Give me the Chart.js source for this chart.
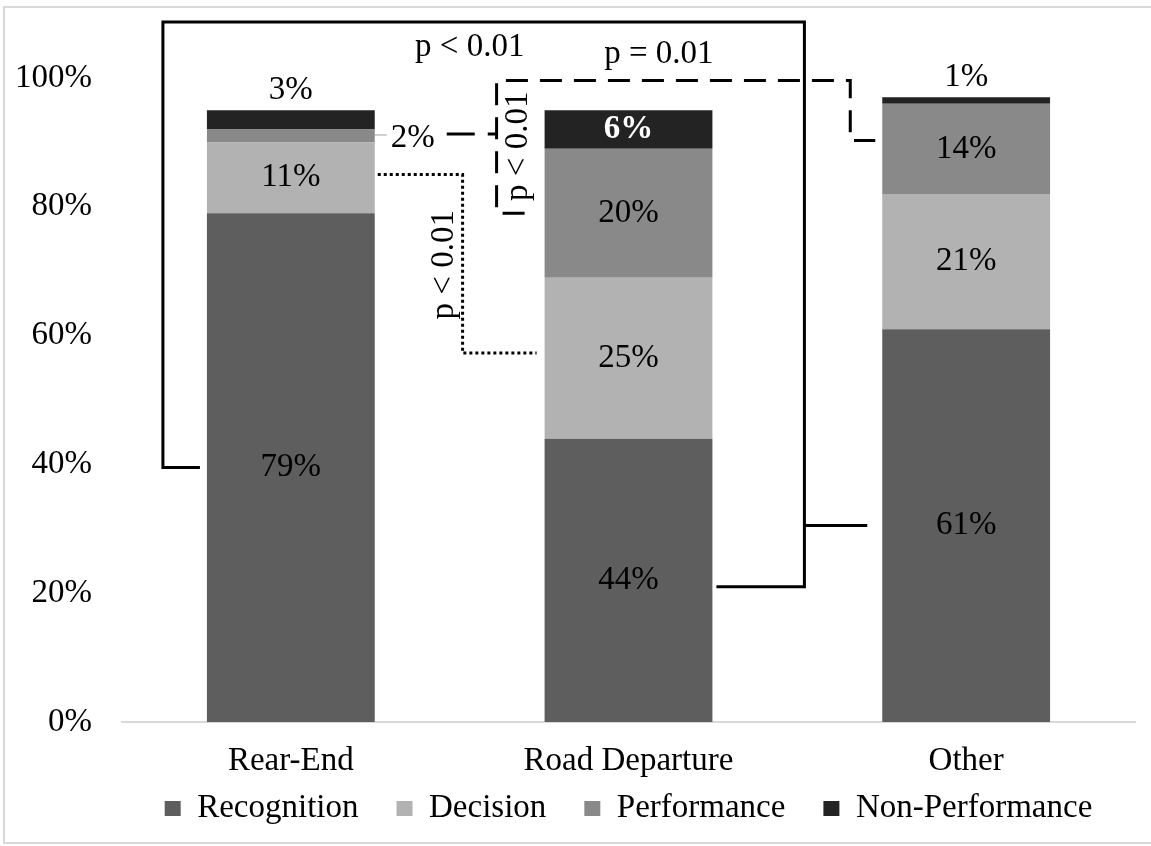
<!DOCTYPE html>
<html lang="en">
<head>
<meta charset="UTF-8">
<title>Error types by crash type</title>
<script src="https://cdn.jsdelivr.net/npm/chart.js"></script>
<style>
  html, body { margin: 0; padding: 0; background: #fff; }
  #wrap { position: relative; width: 1151px; height: 846px; }
</style>
</head>
<body>
<div id="wrap"><canvas id="errorChart" width="1151" height="846"></canvas></div>
<script>
const categories = ['Rear-End', 'Road Departure', 'Other'];
const recognition = [79, 44, 61];
const decision = [11, 25, 21];
const performance = [2, 20, 14];
const nonPerformance = [3, 6, 1];
const seriesNames = ['Recognition', 'Decision', 'Performance', 'Non-Performance'];
const seriesColors = ['#5e5e5e', '#b2b2b2', '#898989', '#232323'];

const FONT = 'Liberation Serif';

function drawPath(ctx, pts, dash) {
    ctx.beginPath();
    ctx.setLineDash(dash);
    pts.forEach((p, k) => k ? ctx.lineTo(p[0], p[1]) : ctx.moveTo(p[0], p[1]));
    ctx.stroke();
}

function rotatedText(ctx, text, x, y) {
    ctx.save();
    ctx.translate(x, y);
    ctx.rotate(-Math.PI / 2);
    ctx.fillText(text, 0, 0);
    ctx.restore();
}

// page frame + pull the legend up closer to the category labels
const frame = {
    id: 'frame',
    afterLayout(chart) {
        chart.legend.top -= 30;
        chart.legend.bottom -= 30;
    },
    beforeDraw(chart) {
        const ctx = chart.ctx;
        ctx.save();
        ctx.strokeStyle = '#d9d9d9';
        ctx.lineWidth = 2;
        ctx.strokeRect(4, 7, 1170, 836);
        ctx.restore();
    }
};

// value labels + significance brackets
const annotations = {
    id: 'annotations',
    afterDatasetsDraw(chart) {
        const ctx = chart.ctx;
        const x = chart.scales.x, y = chart.scales.y;
        const bars = chart.getDatasetMeta(0).data;
        const left = i => bars[i].x - bars[i].width / 2;
        const right = i => bars[i].x + bars[i].width / 2;
        const yv = v => y.getPixelForValue(v);

        ctx.save();
        ctx.textAlign = 'center';
        ctx.textBaseline = 'middle';

        chart.data.datasets.forEach((ds, d) => {
            const meta = chart.getDatasetMeta(d);
            meta.data.forEach((bar, i) => {
                const txt = ds.data[i] + '%';
                const mid = (bar.y + bar.base) / 2;
                ctx.fillStyle = '#000';
                ctx.font = '33px "' + FONT + '"';
                if (d === 3 && i !== 1) {
                    ctx.fillText(txt, bar.x, bar.y - 20);
                } else if (d === 2 && i === 0) {
                    ctx.fillText(txt, right(0) + 38, mid + 2);
                    ctx.strokeStyle = '#a0a0a0';
                    ctx.lineWidth = 1;
                    drawPath(ctx, [[right(0), mid - 1], [right(0) + 12, mid - 1]], []);
                } else if (d === 3 && i === 1) {
                    ctx.fillStyle = '#fff';
                    ctx.font = 'bold 33px "' + FONT + '"';
                    ctx.fillText(txt, bar.x, mid);
                } else {
                    ctx.fillText(txt, bar.x, mid);
                }
            });
        });

        ctx.strokeStyle = '#000';
        ctx.lineWidth = 3;
        ctx.fillStyle = '#000';
        ctx.font = '33px "' + FONT + '"';

        // solid bracket
        const topY = yv(108.7);
        const xl = left(0) - 44, xr = right(1) + 92;
        drawPath(ctx, [[left(0) - 7, yv(recognition[0] / 2)], [xl, yv(recognition[0] / 2)], [xl, topY],
                       [xr, topY], [xr, yv(21)], [right(1) + 4, yv(21)]], []);
        drawPath(ctx, [[xr, yv(recognition[2] / 2)], [left(2) - 15, yv(recognition[2] / 2)]], []);
        ctx.fillText('p < 0.01', x.getPixelForValue(0.53), yv(104.8));

        // dashed bracket
        const xv = left(1) - 48, xo = left(2) - 32, dashTop = yv(99.6);
        const rdPerf = recognition[1] + decision[1] + performance[1] / 2;
        drawPath(ctx, [[left(1) - 20, yv(rdPerf)], [xv, yv(rdPerf)], [xv, dashTop],
                       [xo, dashTop], [xo, yv(90.3)], [left(2) - 7, yv(90.3)]], [22, 12]);
        drawPath(ctx, [[right(0) + 72, yv(91.3)], [xv, yv(91.3)]], [28, 13]);
        ctx.setLineDash([]);
        ctx.fillText('p = 0.01', x.getPixelForValue(1.09), yv(103.6));
        rotatedText(ctx, 'p < 0.01', xv + 22, yv(89.4));

        // dotted bracket
        const xd = left(1) - 82;
        drawPath(ctx, [[right(0) + 3, yv(85)], [xd, yv(85)], [xd, yv(57.3)], [left(1) - 8, yv(57.3)]], [3, 3]);
        ctx.setLineDash([]);
        rotatedText(ctx, 'p < 0.01', xd - 18, yv(71));

        ctx.restore();
    }
};

const seriesData = [recognition, decision, performance, nonPerformance];

new Chart(document.getElementById('errorChart'), {
    type: 'bar',
    data: {
        labels: categories,
        datasets: seriesNames.map((name, k) => ({
            label: name,
            data: seriesData[k],
            backgroundColor: seriesColors[k],
            borderWidth: 0,
            barPercentage: 0.497,
            categoryPercentage: 1
        }))
    },
    options: {
        responsive: false,
        animation: false,
        layout: { padding: { top: 78, left: 0, right: 16, bottom: -19 } },
        scales: {
            x: {
                stacked: true,
                grid: { display: false, drawTicks: false },
                border: { display: true, color: '#d9d9d9', width: 2 },
                ticks: { color: '#000', padding: 20, font: { family: FONT, size: 33 } },
                afterFit: s => { s.height = 62; }
            },
            y: {
                stacked: true,
                min: 0,
                max: 100,
                grid: { display: false, drawTicks: false },
                border: { display: false },
                ticks: {
                    stepSize: 20,
                    padding: 30,
                    color: '#000',
                    font: { family: FONT, size: 33 },
                    callback: v => v + '%'
                },
                afterFit: s => { s.width = 122; }
            }
        },
        plugins: {
            legend: {
                position: 'bottom',
                fullSize: false,
                labels: {
                    boxWidth: 16,
                    boxHeight: 15,
                    padding: 38,
                    color: '#000',
                    font: { family: FONT, size: 33 }
                }
            },
            tooltip: { enabled: false }
        }
    },
    plugins: [frame, annotations]
});
</script>
</body>
</html>
